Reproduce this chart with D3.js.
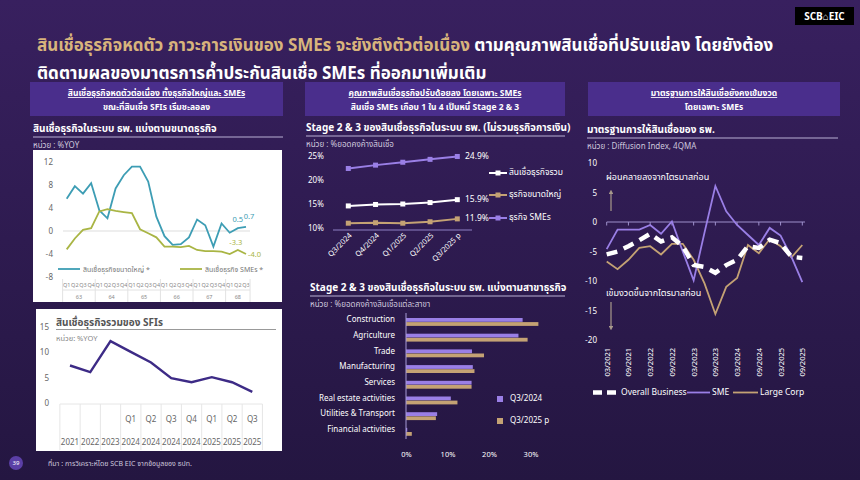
<!DOCTYPE html>
<html>
<head>
<meta charset="utf-8">
<script src="https://cdn.jsdelivr.net/npm/d3@7"></script>
<style>
  body { margin: 0; background: #2a1850; }
  svg text { font-family: "Noto Sans Thai", "Leelawadee UI", "Noto Sans", sans-serif; }
</style>
</head>
<body>
<div id="chart"></div>
<script>
// ---- data ----
var qYears = ['63', '64', '65', '66', '67', '68'];
var qNames = ['Q1', 'Q2', 'Q3', 'Q4'];
var largeBiz = [5.6, 7.8, 6.5, 8.3, 3.6, 2.2, 7.4, 9.7, 11.2, 11.2, 8.6, 2.5, -0.9, -2.4, -2.3, -1.1, 2.0, 1.0, -2.7, 1.3, -0.3, 0.5, 0.7];
var smeBiz   = [-3.2, -1.3, 0.2, 0.5, 3.4, 3.8, 3.5, 3.3, 3.1, 0.3, -0.4, -1.1, -2.7, -2.7, -2.8, -2.6, -3.3, -3.5, -3.5, -3.6, -4.0, -3.3, -4.0];

var sfiQ    = ['', '', '', 'Q1', 'Q2', 'Q3', 'Q4', 'Q1', 'Q2', 'Q3'];
var sfiY    = ['2021', '2022', '2023', '2024', '2024', '2024', '2024', '2025', '2025', '2025'];
var sfiVals = [7.4, 6.1, 12.2, 10.1, 8.0, 4.9, 4.1, 5.1, 4.1, 2.2];

var stageQ     = ['Q3/2024', 'Q4/2024', 'Q1/2025', 'Q2/2025', 'Q3/2025 p'];
var stageTotal = [14.6, 14.9, 15.0, 15.3, 15.9];
var stageLarge = [11.0, 11.1, 11.0, 11.3, 11.9];
var stageSME   = [22.4, 23.1, 23.7, 24.3, 24.9];

var sectors = ['Construction', 'Agriculture', 'Trade', 'Manufacturing', 'Services', 'Real estate activities', 'Utilities & Transport', 'Financial activities'];
var sec2024 = [28.1, 27.1, 15.9, 16.1, 15.8, 10.8, 7.5, 0.3];
var sec2025 = [31.9, 29.3, 18.8, 16.5, 15.8, 12.4, 7.2, 1.4];

var diTicks   = ['03/2021', '09/2021', '03/2022', '09/2022', '03/2023', '09/2023', '03/2024', '09/2024', '03/2025', '09/2025'];
var diOverall = [-5.5, -5.0, -4.1, -3.1, -2.0, -3.3, -2.6, -4.1, -7.3, -7.6, -8.6, -7.3, -6.4, -4.1, -4.4, -3.0, -3.6, -5.9, -6.1];
var diSME     = [-4.6, -1.3, -1.3, -1.3, -0.5, -2.0, 0.1, -5.0, -9.9, -1.8, 6.1, 1.8, -0.5, -2.2, -3.9, -1.0, -2.3, -5.9, -10.2];
var diLarge   = [-6.7, -8.0, -6.4, -4.4, -4.1, -5.5, -3.7, -3.7, -6.4, -10.4, -15.6, -11.0, -9.5, -3.9, -5.3, -2.9, -4.1, -6.0, -3.9];

// ---- colours ----
var gold = '#d8b47c', tan = '#c4a274', lav = '#9a7fe6', teal = '#3d9db4', olive = '#a9b544',
    grey = '#cdc6dc', header = '#4a2e8c';

var width = 860, height = 480;

var svg = d3.select('#chart').append('svg')
    .attr('width', width)
    .attr('height', height);

var defs = svg.append('defs');
var bg = defs.append('linearGradient').attr('id', 'bg').attr('x1', 0).attr('y1', 0).attr('x2', 0).attr('y2', 1);
bg.append('stop').attr('offset', '0%').attr('stop-color', '#38205f');
bg.append('stop').attr('offset', '100%').attr('stop-color', '#241641');
svg.append('rect').attr('width', width).attr('height', height).attr('fill', 'url(#bg)');

function txt(g, x, y, s, size, fill, opt) {
  opt = opt || {};
  return g.append('text')
    .attr('x', x).attr('y', y)
    .attr('font-size', size)
    .attr('fill', fill)
    .attr('font-weight', opt.bold ? 'bold' : null)
    .attr('text-anchor', opt.anchor || 'start')
    .attr('dominant-baseline', opt.base || 'auto')
    .attr('text-decoration', opt.under ? 'underline' : null)
    .text(s);
}

// logo
svg.append('rect').attr('x', 795).attr('y', 7).attr('width', 59).attr('height', 18).attr('fill', '#000');
txt(svg, 824.5, 19.5, 'SCB⌂EIC', 10, '#fff', {anchor: 'middle', bold: true});

// title
var t1 = svg.append('text').attr('x', 37).attr('y', 51).attr('font-size', 17).attr('font-weight', 'bold');
t1.append('tspan').attr('fill', gold).text('สินเชื่อธุรกิจหดตัว ภาวะการเงินของ SMEs จะยังตึงตัวต่อเนื่อง ');
t1.append('tspan').attr('fill', '#fff').text('ตามคุณภาพสินเชื่อที่ปรับแย่ลง โดยยังต้อง');
txt(svg, 37, 79, 'ติดตามผลของมาตรการค้ำประกันสินเชื่อ SMEs ที่ออกมาเพิ่มเติม', 17, '#fff', {bold: true});

// panel headers
function panelHead(x0, x1, l1, l2) {
  svg.append('rect').attr('x', x0).attr('y', 82).attr('width', x1 - x0).attr('height', 34).attr('fill', header);
  txt(svg, (x0 + x1) / 2, 96, l1, 8.5, '#fff', {anchor: 'middle', bold: true, under: true});
  txt(svg, (x0 + x1) / 2, 110, l2, 8.5, '#fff', {anchor: 'middle', bold: true});
}
panelHead(30, 283, 'สินเชื่อธุรกิจหดตัวต่อเนื่อง ทั้งธุรกิจใหญ่และ SMEs', 'ขณะที่สินเชื่อ SFIs เริ่มชะลอลง');
panelHead(305, 565, 'คุณภาพสินเชื่อธุรกิจปรับด้อยลง โดยเฉพาะ SMEs', 'สินเชื่อ SMEs เกือบ 1 ใน 4 เป็นหนี้ Stage 2 & 3');
panelHead(588, 840, 'มาตรฐานการให้สินเชื่อยังคงเข้มงวด', 'โดยเฉพาะ SMEs');

function chartTitle(x0, x1, y, s, unit) {
  txt(svg, x0, y, s, 10, '#fff', {bold: true});
  svg.append('line').attr('x1', x0).attr('x2', x1).attr('y1', y + 5).attr('y2', y + 5)
    .attr('stroke', '#b9b0d4').attr('stroke-width', 1);
  txt(svg, x0, y + 16, unit, 8, grey);
}

// ================= Left top: business loans by size =================
chartTitle(33, 283, 132, 'สินเชื่อธุรกิจในระบบ ธพ. แบ่งตามขนาดธุรกิจ', 'หน่วย : %YOY');
svg.append('rect').attr('x', 33).attr('y', 150).attr('width', 249).attr('height', 152).attr('fill', '#fff');

var xL = d3.scalePoint().domain(d3.range(largeBiz.length)).range([66.7, 246]);
var yL = d3.scaleLinear().domain([-8, 12]).range([277, 162]);
var gL = svg.append('g');

gL.append('g').attr('transform', 'translate(53,0)')
  .call(d3.axisLeft(yL).tickValues([-8, -4, 0, 4, 8, 12]).tickSize(0).tickPadding(0))
  .call(function(g) { g.select('.domain').remove(); })
  .selectAll('text').attr('fill', '#666').attr('font-size', 8);

gL.append('line').attr('x1', 63).attr('x2', 250).attr('y1', yL(0)).attr('y2', yL(0)).attr('stroke', '#ddd');

var lineL = d3.line().x(function(d, i) { return xL(i); }).y(function(d) { return yL(d); });
gL.append('path').datum(largeBiz).attr('d', lineL).attr('fill', 'none').attr('stroke', teal).attr('stroke-width', 1.8);
gL.append('path').datum(smeBiz).attr('d', lineL).attr('fill', 'none').attr('stroke', olive).attr('stroke-width', 1.8);

var nL = largeBiz.length;
txt(gL, xL(nL - 2), yL(largeBiz[nL - 2]) - 6, String(largeBiz[nL - 2]), 7.5, teal, {anchor: 'middle'});
txt(gL, xL(nL - 1) + 3, yL(largeBiz[nL - 1]) - 8, String(largeBiz[nL - 1]), 7.5, teal, {anchor: 'middle'});
txt(gL, xL(nL - 2) - 2, yL(smeBiz[nL - 2]) - 5, smeBiz[nL - 2].toFixed(1), 7.5, olive, {anchor: 'middle'});
txt(gL, xL(nL - 1) + 2, yL(smeBiz[nL - 1]) + 3, smeBiz[nL - 1].toFixed(1), 7.5, olive, {anchor: 'start'});

// legend
gL.append('line').attr('x1', 58).attr('x2', 80).attr('y1', 269).attr('y2', 269).attr('stroke', teal).attr('stroke-width', 1.8);
txt(gL, 83, 271.5, 'สินเชื่อธุรกิจขนาดใหญ่ *', 7, '#777');
gL.append('line').attr('x1', 180).attr('x2', 202).attr('y1', 269).attr('y2', 269).attr('stroke', olive).attr('stroke-width', 1.8);
txt(gL, 205, 271.5, 'สินเชื่อธุรกิจ SMEs *', 7, '#777');

// quarter / year table
var half = (xL(1) - xL(0)) / 2;
gL.append('line').attr('x1', 63).attr('x2', xL(nL - 1) + half).attr('y1', 290).attr('y2', 290).attr('stroke', '#e2e2e2');
largeBiz.forEach(function(d, i) {
  txt(gL, xL(i), 287, qNames[i % 4], 5.5, '#888', {anchor: 'middle'});
});
qYears.forEach(function(y, k) {
  var i0 = k * 4, i1 = Math.min(k * 4 + 3, nL - 1);
  var a = xL(i0) - half, b = xL(i1) + half;
  gL.append('line').attr('x1', a).attr('x2', a).attr('y1', 279).attr('y2', 302).attr('stroke', '#e2e2e2');
  if (k === qYears.length - 1) gL.append('line').attr('x1', b).attr('x2', b).attr('y1', 279).attr('y2', 302).attr('stroke', '#e2e2e2');
  txt(gL, (a + b) / 2, 299, y, 5.5, '#888', {anchor: 'middle'});
});

// ================= Left bottom: SFIs =================
svg.append('rect').attr('x', 36).attr('y', 309).attr('width', 246).attr('height', 142).attr('fill', '#fff');
var gS = svg.append('g');
txt(gS, 56, 326, 'สินเชื่อธุรกิจรวมของ SFIs', 10, '#555', {bold: true});
gS.append('line').attr('x1', 56).attr('x2', 276).attr('y1', 329.5).attr('y2', 329.5).attr('stroke', '#999');
txt(gS, 56, 341, 'หน่วย: %YOY', 7.5, '#888');

var xS = d3.scalePoint().domain(d3.range(sfiVals.length)).range([70, 252.3]);
var yS = d3.scaleLinear().domain([0, 15]).range([403, 327]);
gS.append('g').attr('transform', 'translate(49,0)')
  .call(d3.axisLeft(yS).tickValues([0, 5, 10, 15]).tickSize(0).tickPadding(0))
  .call(function(g) { g.select('.domain').remove(); })
  .selectAll('text').attr('fill', '#666').attr('font-size', 8);

var hS = (xS(1) - xS(0)) / 2;
gS.append('line').attr('x1', xS(0) - hS).attr('x2', xS(sfiVals.length - 1) + hS).attr('y1', 404).attr('y2', 404).attr('stroke', '#e6e6e6');
d3.range(sfiVals.length + 1).forEach(function(i) {
  var x = xS(0) - hS + i * hS * 2;
  gS.append('line').attr('x1', x).attr('x2', x).attr('y1', 404).attr('y2', 450).attr('stroke', '#e6e6e6');
});
sfiVals.forEach(function(d, i) {
  txt(gS, xS(i), 422, sfiQ[i], 8, '#666', {anchor: 'middle'});
  txt(gS, xS(i), 445, sfiY[i], 8, '#666', {anchor: 'middle'});
});
gS.append('path').datum(sfiVals)
  .attr('d', d3.line().x(function(d, i) { return xS(i); }).y(function(d) { return yS(d); }))
  .attr('fill', 'none').attr('stroke', '#3d2b86').attr('stroke-width', 2.4);

// ================= Middle top: Stage 2 & 3 =================
chartTitle(306, 565, 131, 'Stage 2 & 3 ของสินเชื่อธุรกิจในระบบ ธพ. (ไม่รวมธุรกิจการเงิน)', 'หน่วย : %ยอดคงค้างสินเชื่อ');
var gM = svg.append('g');
var xM = d3.scalePoint().domain(stageQ).range([348.3, 457.3]);
var yM = d3.scaleLinear().domain([10, 25]).range([228, 156]);

gM.append('g').attr('transform', 'translate(308,0)')
  .call(d3.axisRight(yM).tickValues([10, 15, 20, 25]).tickSize(0).tickPadding(0).tickFormat(function(d) { return d + '%'; }))
  .call(function(g) { g.select('.domain').remove(); })
  .selectAll('text').attr('fill', '#fff').attr('font-size', 8);

gM.append('line').attr('x1', 333).attr('x2', 472).attr('y1', 230).attr('y2', 230).attr('stroke', '#8e80c4');
stageQ.forEach(function(q) {
  gM.append('text').attr('transform', 'translate(' + (xM(q) + 4) + ',236) rotate(-45)')
    .attr('text-anchor', 'end').attr('font-size', 7.5).attr('fill', '#fff').text(q);
});

var stageSeries = [
  {vals: stageSME, color: lav, name: 'ธุรกิจ SMEs', ly: 218},
  {vals: stageTotal, color: '#ffffff', name: 'สินเชื่อธุรกิจรวม', ly: 173},
  {vals: stageLarge, color: tan, name: 'ธุรกิจขนาดใหญ่', ly: 195}
];
stageSeries.forEach(function(s) {
  gM.append('path').datum(s.vals)
    .attr('d', d3.line().x(function(d, i) { return xM(stageQ[i]); }).y(function(d) { return yM(d); }))
    .attr('fill', 'none').attr('stroke', s.color).attr('stroke-width', 2);
  gM.selectAll(null).data(s.vals).enter().append('rect')
    .attr('x', function(d, i) { return xM(stageQ[i]) - 2.5; })
    .attr('y', function(d) { return yM(d) - 2.5; })
    .attr('width', 5).attr('height', 5).attr('fill', s.color);
  var last = s.vals[s.vals.length - 1];
  txt(gM, 465, yM(last), last.toFixed(1) + '%', 8.5, '#fff', {base: 'middle'});
  gM.append('line').attr('x1', 489).attr('x2', 507).attr('y1', s.ly).attr('y2', s.ly).attr('stroke', s.color).attr('stroke-width', 2);
  gM.append('rect').attr('x', 495.5).attr('y', s.ly - 2.5).attr('width', 5).attr('height', 5).attr('fill', s.color);
  txt(gM, 509, s.ly, s.name, 8.5, '#fff', {base: 'middle'});
});

// ================= Middle bottom: by sector =================
chartTitle(310, 565, 291, 'Stage 2 & 3 ของสินเชื่อธุรกิจในระบบ ธพ. แบ่งตามสาขาธุรกิจ', 'หน่วย : %ยอดคงค้างสินเชื่อแต่ละสาขา');
var gB = svg.append('g');
var yB = d3.scaleBand().domain(sectors).range([314.5, 440.1]);
var xB = d3.scaleLinear().domain([0, 30]).range([406, 530.5]);

gB.selectAll('.b24').data(sec2024).enter().append('rect')
  .attr('x', xB(0)).attr('y', function(d, i) { return yB(sectors[i]) + 3.5; })
  .attr('width', function(d) { return xB(d) - xB(0); }).attr('height', 3.8).attr('fill', lav);
gB.selectAll('.b25').data(sec2025).enter().append('rect')
  .attr('x', xB(0)).attr('y', function(d, i) { return yB(sectors[i]) + 7.6; })
  .attr('width', function(d) { return xB(d) - xB(0); }).attr('height', 3.8).attr('fill', tan);
sectors.forEach(function(s) {
  txt(gB, 395, yB(s) + 5.5, s, 8, '#fff', {anchor: 'end', base: 'middle'});
});
gB.append('line').attr('x1', xB(0)).attr('x2', xB(0)).attr('y1', 313).attr('y2', 439).attr('stroke', '#a79bd6');

gB.append('g').attr('transform', 'translate(0,454)')
  .call(d3.axisBottom(xB).tickValues([0, 10, 20, 30]).tickSize(0).tickPadding(0).tickFormat(function(d) { return d + '%'; }))
  .call(function(g) { g.select('.domain').remove(); })
  .selectAll('text').attr('fill', '#fff').attr('font-size', 7.5).attr('dy', '0.35em');

gB.append('rect').attr('x', 497).attr('y', 396).attr('width', 6).attr('height', 6).attr('fill', lav);
txt(gB, 510, 399, 'Q3/2024', 8, '#fff', {base: 'middle'});
gB.append('rect').attr('x', 497).attr('y', 418).attr('width', 6).attr('height', 6).attr('fill', tan);
txt(gB, 510, 421, 'Q3/2025 p', 8, '#fff', {base: 'middle'});

// ================= Right: lending standards =================
chartTitle(587, 838, 133, 'มาตรฐานการให้สินเชื่อของ ธพ.', 'หน่วย : Diffusion Index, 4QMA');
var gR = svg.append('g');
var xR = d3.scalePoint().domain(d3.range(diOverall.length)).range([606.7, 802.3]);
var yR = d3.scaleLinear().domain([-20, 10]).range([340, 163]);

gR.append('g').attr('transform', 'translate(597,0)')
  .call(d3.axisLeft(yR).tickValues([-20, -15, -10, -5, 0, 5, 10]).tickSize(0).tickPadding(0))
  .call(function(g) { g.select('.domain').remove(); })
  .selectAll('text').attr('fill', '#fff').attr('font-size', 8);

gR.append('line').attr('x1', xR(0)).attr('x2', 805).attr('y1', yR(0)).attr('y2', yR(0)).attr('stroke', '#9d8fcb').attr('stroke-width', 1.2);
diTicks.forEach(function(t, k) {
  var x = xR(k * 2);
  gR.append('line').attr('x1', x).attr('x2', x).attr('y1', yR(0)).attr('y2', yR(0) + 3.5).attr('stroke', '#9d8fcb');
  gR.append('text').attr('transform', 'translate(' + (x + 3) + ',348) rotate(-90)')
    .attr('text-anchor', 'end').attr('font-size', 7.5).attr('fill', '#fff').text(t);
});

var lineR = d3.line().x(function(d, i) { return xR(i); }).y(function(d) { return yR(d); });
gR.append('path').datum(diLarge).attr('d', lineR).attr('fill', 'none').attr('stroke', tan).attr('stroke-width', 1.8);
gR.append('path').datum(diSME).attr('d', lineR).attr('fill', 'none').attr('stroke', lav).attr('stroke-width', 1.8);
gR.append('path').datum(diOverall).attr('d', lineR).attr('fill', 'none').attr('stroke', '#fff')
  .attr('stroke-width', 4.5).attr('stroke-dasharray', '11,7');

// annotations
txt(gR, 606, 180, 'ผ่อนคลายลงจากไตรมาสก่อน', 9, '#fff');
txt(gR, 606, 296, 'เข้มงวดขึ้นจากไตรมาสก่อน', 9, '#fff');
defs.append('marker').attr('id', 'arr').attr('viewBox', '0 0 10 10').attr('refX', 5).attr('refY', 5)
  .attr('markerWidth', 4).attr('markerHeight', 4).attr('orient', 'auto-start-reverse')
  .append('path').attr('d', 'M0,0 L10,5 L0,10 z').attr('fill', '#a89a8c');
gR.append('line').attr('x1', 611).attr('x2', 611).attr('y1', 211).attr('y2', 192)
  .attr('stroke', '#a89a8c').attr('stroke-width', 1.2).attr('marker-end', 'url(#arr)');
gR.append('line').attr('x1', 611).attr('x2', 611).attr('y1', 302).attr('y2', 328)
  .attr('stroke', '#a89a8c').attr('stroke-width', 1.2).attr('marker-end', 'url(#arr)');

// legend
gR.append('line').attr('x1', 593).attr('x2', 620).attr('y1', 392.5).attr('y2', 392.5)
  .attr('stroke', '#fff').attr('stroke-width', 4.5).attr('stroke-dasharray', '9,5');
txt(gR, 621, 393, 'Overall Business', 8.5, '#fff', {base: 'middle'});
gR.append('line').attr('x1', 687).attr('x2', 710).attr('y1', 392.5).attr('y2', 392.5).attr('stroke', lav).attr('stroke-width', 1.8);
txt(gR, 712, 393, 'SME', 8.5, '#fff', {base: 'middle'});
gR.append('line').attr('x1', 733).attr('x2', 758).attr('y1', 392.5).attr('y2', 392.5).attr('stroke', tan).attr('stroke-width', 1.8);
txt(gR, 760, 393, 'Large Corp', 8.5, '#fff', {base: 'middle'});

// footer
svg.append('circle').attr('cx', 16).attr('cy', 463).attr('r', 7).attr('fill', '#5b3fa6');
txt(svg, 16, 463.5, '39', 6, '#fff', {anchor: 'middle', base: 'middle'});
txt(svg, 48, 466, 'ที่มา : การวิเคราะห์โดย SCB EIC จากข้อมูลของ ธปท.', 7, grey);
</script>
</body>
</html>
